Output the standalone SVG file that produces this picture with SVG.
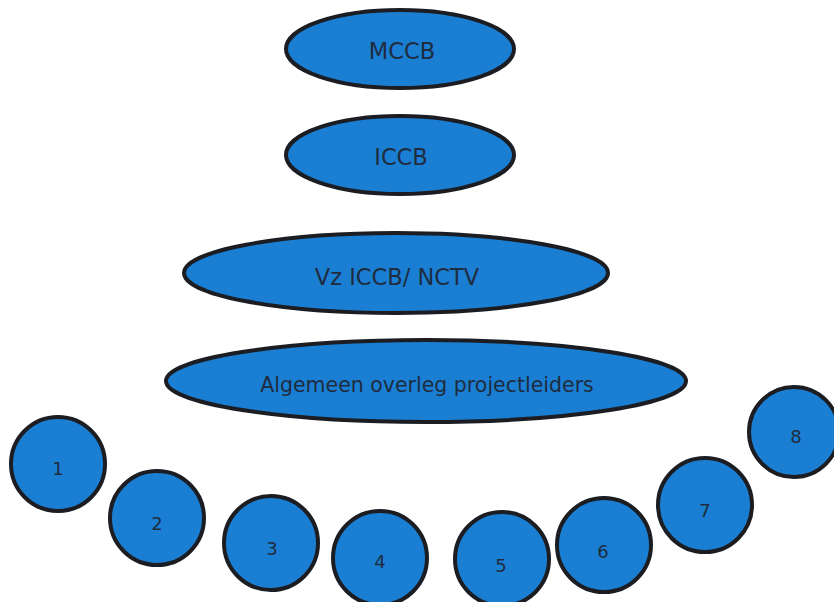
<svg xmlns="http://www.w3.org/2000/svg" width="834" height="602" viewBox="0 0 834 602">
<style>
.n{fill:#1a7fd3;stroke:#1b1d22;stroke-width:4}
.t{font-family:"DejaVu Sans",Verdana,sans-serif;font-size:22.5px;fill:#1e2c3e;text-anchor:middle}
.a{font-size:20.5px}
.d{font-family:"DejaVu Sans",Verdana,sans-serif;font-size:18px;fill:#1e2c3e;text-anchor:middle}
</style>
<rect width="834" height="602" fill="#ffffff"/>
<g id="mccb"><ellipse class="n" cx="400" cy="49" rx="114" ry="39"/><text class="t" x="402" y="59">MCCB</text></g>
<g id="iccb"><ellipse class="n" cx="400" cy="155" rx="114" ry="39"/><text class="t" x="401" y="165">ICCB</text></g>
<g id="vz"><ellipse class="n" cx="396" cy="273" rx="212" ry="40"/><text class="t" x="397" y="285">Vz ICCB/ NCTV</text></g>
<g id="algemeen"><ellipse class="n" cx="426" cy="381" rx="260" ry="41"/><text class="t a" x="427" y="392">Algemeen overleg projectleiders</text></g>
<g id="n1"><circle class="n" cx="58" cy="464" r="47"/><text class="d" x="58" y="475">1</text></g>
<g id="n2"><circle class="n" cx="157" cy="518" r="47"/><text class="d" x="157" y="530">2</text></g>
<g id="n3"><circle class="n" cx="271" cy="543" r="47"/><text class="d" x="272" y="555">3</text></g>
<g id="n4"><circle class="n" cx="380" cy="558" r="47"/><text class="d" x="380" y="568">4</text></g>
<g id="n5"><circle class="n" cx="502" cy="559" r="47"/><text class="d" x="501" y="572">5</text></g>
<g id="n6"><circle class="n" cx="604" cy="545" r="47"/><text class="d" x="603" y="558">6</text></g>
<g id="n7"><circle class="n" cx="705" cy="505" r="47"/><text class="d" x="705" y="517">7</text></g>
<g id="n8"><circle class="n" cx="794" cy="432" r="45"/><text class="d" x="796" y="443">8</text></g>
<g id="connectors"></g>
</svg>
